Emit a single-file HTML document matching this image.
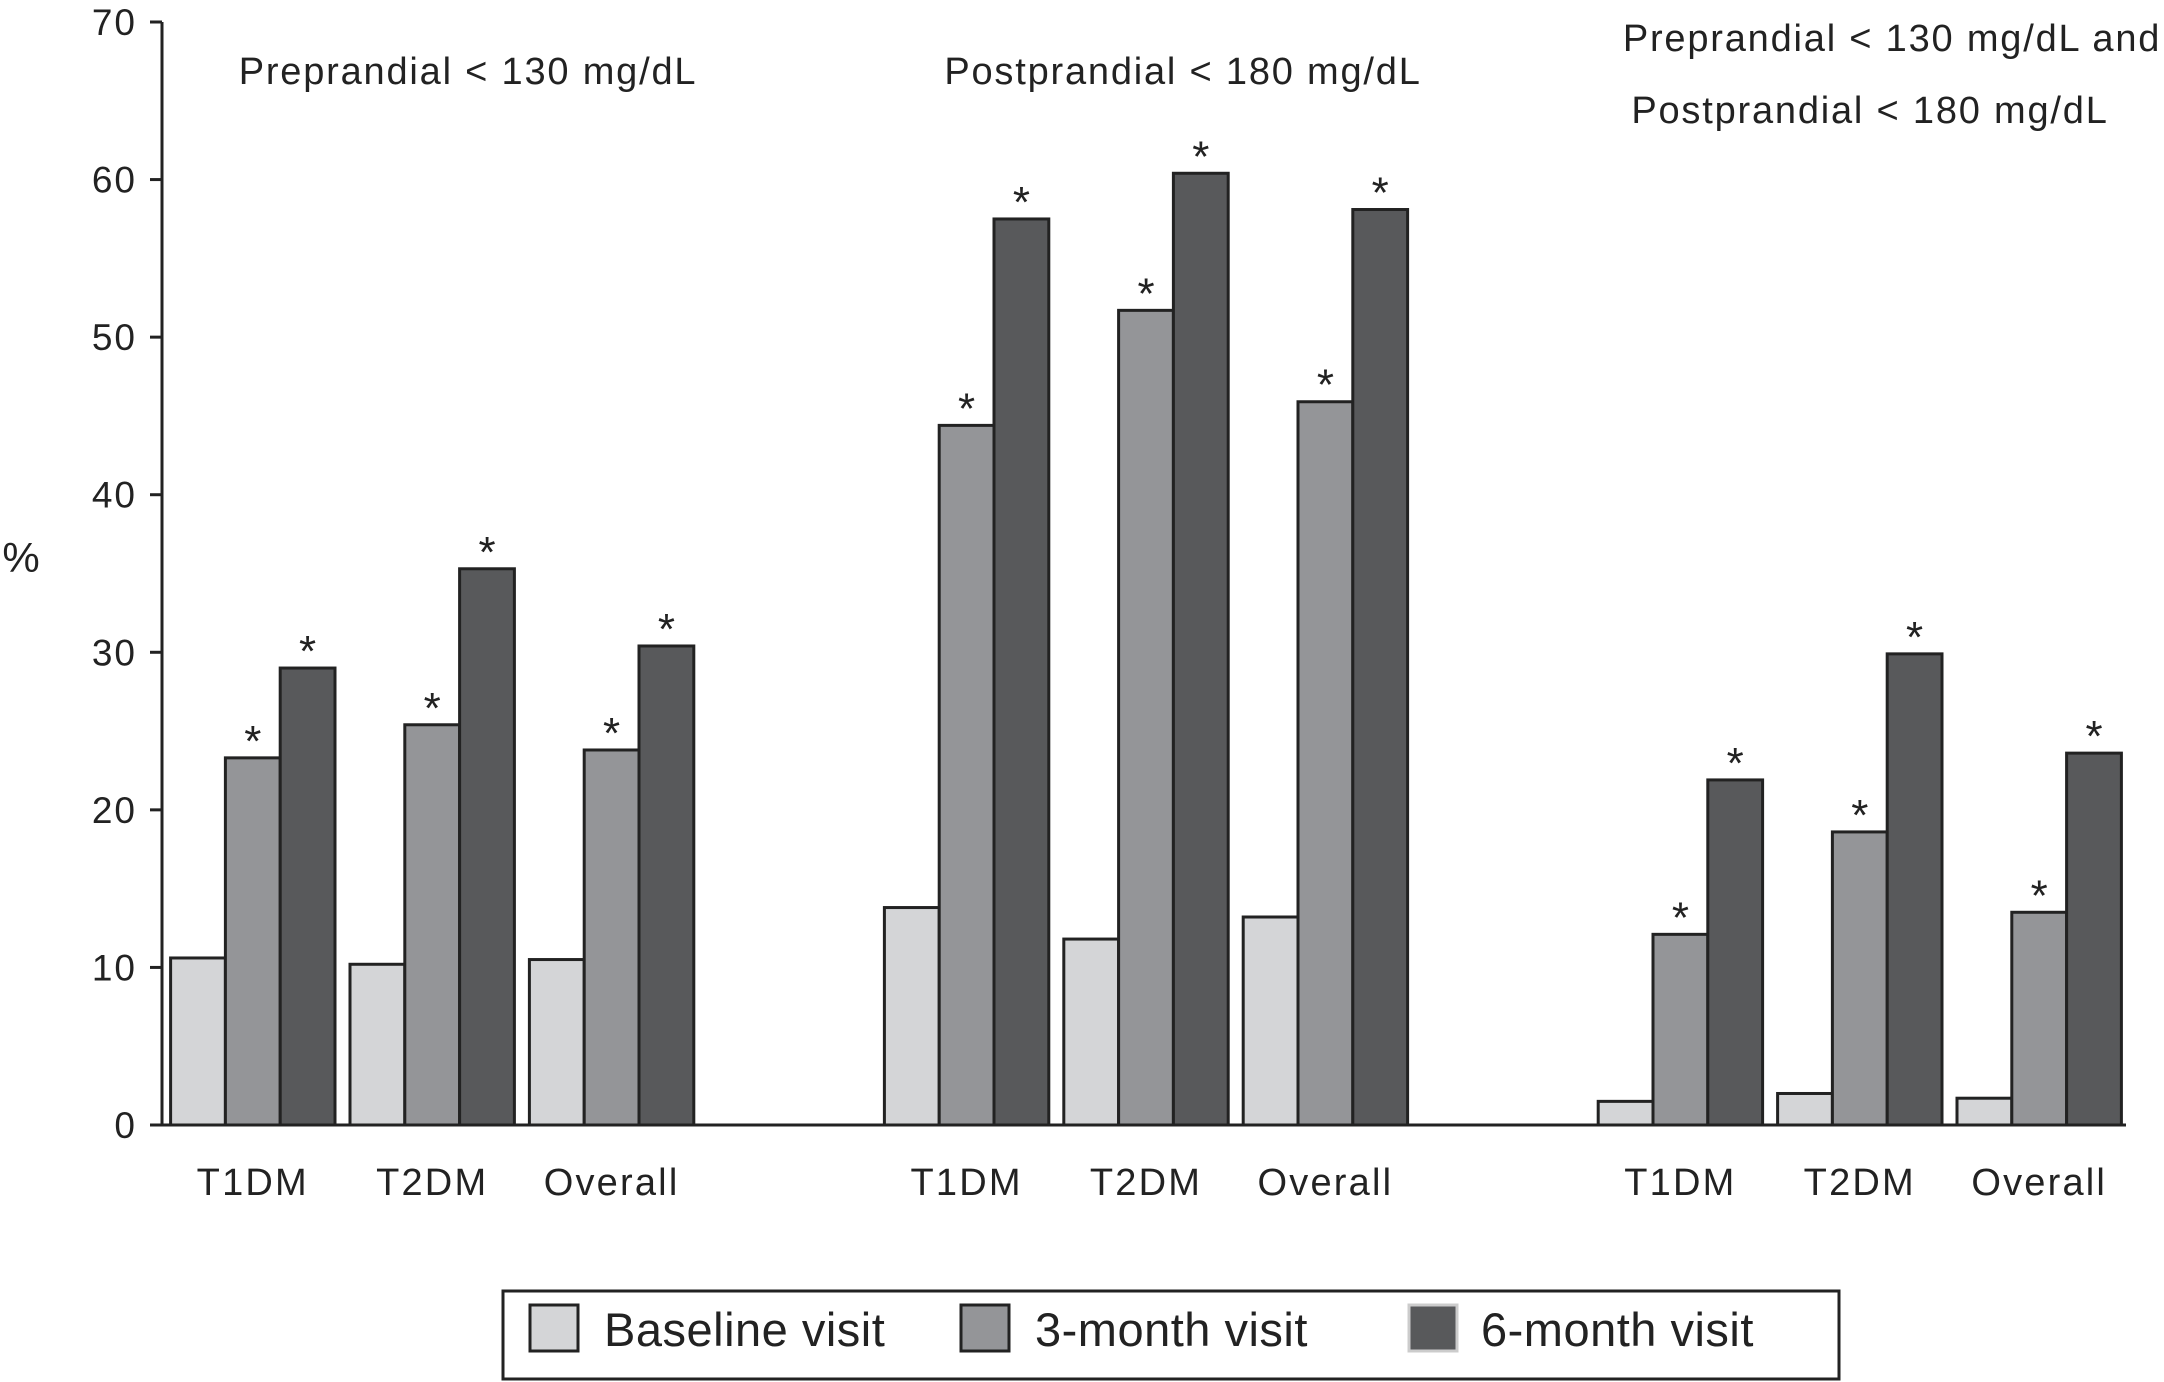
<!DOCTYPE html>
<html><head><meta charset="utf-8"><style>
html,body{margin:0;padding:0;background:#fff;}
svg{display:block;font-family:"Liberation Sans",Arial,sans-serif;}
.t{letter-spacing:1.8px;}
</style></head><body>
<svg id="chart" width="2164" height="1382" viewBox="0 0 2164 1382">
<g id="axes"></g>
<g id="bars"></g>
<text x="21" y="572" font-size="42" text-anchor="middle" fill="#222">%</text>
<text class="t" x="468" y="84" font-size="38" text-anchor="middle" fill="#222">Preprandial &lt; 130 mg/dL</text>
<text class="t" x="1183" y="84" font-size="38" text-anchor="middle" fill="#222">Postprandial &lt; 180 mg/dL</text>
<text class="t" x="1892" y="51" font-size="38" text-anchor="middle" fill="#222">Preprandial &lt; 130 mg/dL and</text>
<text class="t" x="1870" y="123" font-size="38" text-anchor="middle" fill="#222">Postprandial &lt; 180 mg/dL</text>
<g>
<rect x="503" y="1291" width="1336" height="88" fill="#fff" stroke="#222" stroke-width="3"/>
<rect x="530" y="1305" width="48" height="46" fill="#d4d5d7" stroke="#222" stroke-width="3"/>
<text x="604" y="1346" font-size="47" letter-spacing="0.5" fill="#222">Baseline visit</text>
<rect x="961" y="1305" width="48" height="46" fill="#949598" stroke="#222" stroke-width="3"/>
<text x="1035" y="1346" font-size="47" letter-spacing="0.5" fill="#222">3-month visit</text>
<rect x="1409" y="1305" width="48" height="46" fill="#58595b" stroke="#ccc" stroke-width="3"/>
<text x="1481" y="1346" font-size="47" letter-spacing="0.5" fill="#222">6-month visit</text>
</g>
</svg>
<script>
const categories = ["T1DM","T2DM","Overall"];
const panels = ["Preprandial","Postprandial","Combined"];
const baseline = [[10.6,10.2,10.5],[13.8,11.8,13.2],[1.5,2.0,1.7]];
const month3 = [[23.3,25.4,23.8],[44.4,51.7,45.9],[12.1,18.6,13.5]];
const month6 = [[29.0,35.3,30.4],[57.5,60.4,58.1],[21.9,29.9,23.6]];
const yTicks = [0,10,20,30,40,50,60,70];

const NS="http://www.w3.org/2000/svg";
const y0=1125, yTop=22, yMax=70;
const y = v => y0 - (v/yMax)*(y0-yTop);
const axisX=162;
const barW=54.8, subStep=179.4, groupStep=713.8, startX=170.6;
const xBar=(p,c,s)=>startX+p*groupStep+c*subStep+s*barW;
function mk(tag,attrs,parent){const e=document.createElementNS(NS,tag);for(const k in attrs)e.setAttribute(k,attrs[k]);parent.appendChild(e);return e;}
const axes=document.getElementById('axes');
const bars=document.getElementById('bars');
yTicks.forEach(t=>{
  const l=mk('line',{x1:axisX-12,x2:axisX,y1:y(t),y2:y(t),stroke:'#222','stroke-width':3},axes);
  
  
  const tx=mk('text',{x:axisX-25,y:y(t)+13,'font-size':37,'letter-spacing':2,'text-anchor':'end',fill:'#222'},axes);
  tx.textContent=t;
  
  
});
const va=mk('line',{x1:axisX,x2:axisX,y1:yTop,y2:y0+1,stroke:'#222','stroke-width':3},axes);


const series=[baseline,month3,month6];
const fills=['#d4d5d7','#949598','#58595b'];
const snames=['baseline','3-month','6-month'];
panels.forEach((p,pi)=>{
  categories.forEach((c,ci)=>{
    series.forEach((s,si)=>{
      const v=s[pi][ci];
      const x=xBar(pi,ci,si);
      const r=mk('rect',{x:x,y:y(v),width:barW,height:y0-y(v),fill:fills[si],stroke:'#222','stroke-width':3},bars);
      
      
      if(si>0){
        const a=mk('text',{x:x+barW/2,y:y(v)-2,'font-size':44,'text-anchor':'middle',fill:'#222'},bars);
        a.textContent='*';
        
        
      }
    });
    const lx=xBar(pi,ci,0)+barW*1.5;
    const lt=mk('text',{x:lx,y:1195,'font-size':38,'letter-spacing':2.2,'text-anchor':'middle',fill:'#222'},axes);
    lt.textContent=c;
    
    
  });
});
const ha=mk('line',{x1:axisX-12,x2:2126,y1:y0,y2:y0,stroke:'#222','stroke-width':3},axes);


</script>
</body></html>
